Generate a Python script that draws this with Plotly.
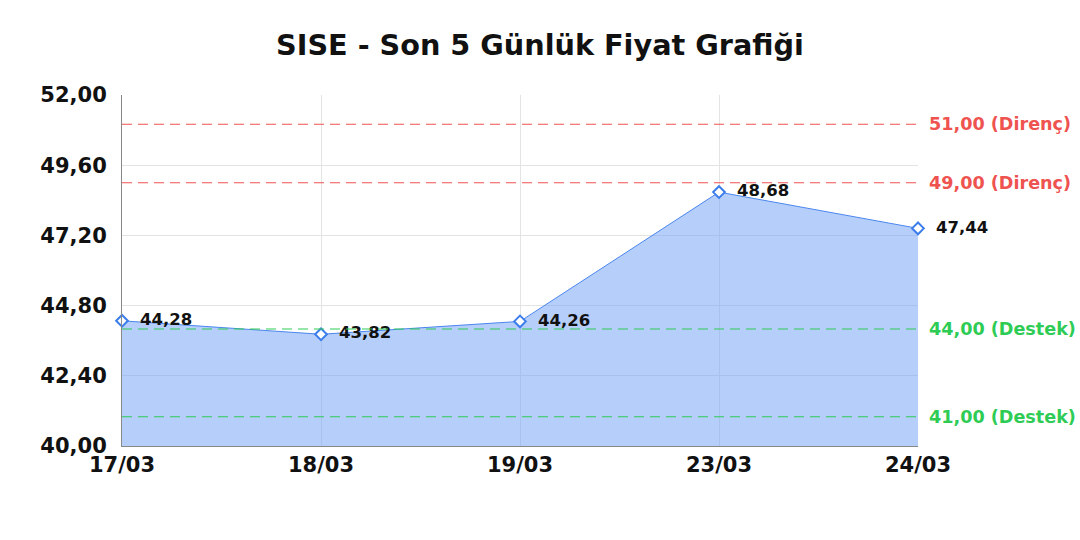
import plotly.graph_objects as go

# Price data
dates = ["17/03", "18/03", "19/03", "23/03", "24/03"]
prices = [44.28, 43.82, 44.26, 48.68, 47.44]

# Support / resistance levels
resistance_levels = [51.00, 49.00]
support_levels = [44.00, 41.00]

y_ticks = [40.00, 42.40, 44.80, 47.20, 49.60, 52.00]

FONT = "DejaVu Sans"
RED = "#ef5350"
GREEN = "#2ecc55"

fig = go.Figure()

# Area line with open diamond markers
fig.add_trace(go.Scatter(
    x=dates,
    y=prices,
    mode="lines+markers+text",
    line=dict(color="#4a86ee", width=1),
    fill="tozeroy",
    fillcolor="rgba(120,165,245,0.55)",
    marker=dict(symbol="diamond", size=9, color="white",
                line=dict(color="#3b7deb", width=2)),
    texttemplate="  %{y:.2f}",
    textposition="middle right",
    textfont=dict(family=FONT, size=16.5, color="#111111", weight="bold"),
    cliponaxis=False,
    showlegend=False,
))

shapes = []
annotations = []
for lvl in resistance_levels:
    shapes.append(dict(type="line", xref="paper", x0=0, x1=1, yref="y", y0=lvl, y1=lvl,
                       line=dict(color=RED, width=1.2, dash="10px,6px")))
    annotations.append(dict(xref="paper", x=1.0, xanchor="left", xshift=9, yref="y", y=lvl,
                            text=f"{lvl:.2f}".replace(".", ",") + " (Direnç)", showarrow=False,
                            font=dict(family=FONT, size=17.6, color=RED, weight="bold")))
for lvl in support_levels:
    shapes.append(dict(type="line", xref="paper", x0=0, x1=1, yref="y", y0=lvl, y1=lvl,
                       line=dict(color=GREEN, width=1.2, dash="10px,6px")))
    annotations.append(dict(xref="paper", x=1.0, xanchor="left", xshift=9, yref="y", y=lvl,
                            text=f"{lvl:.2f}".replace(".", ",") + " (Destek)", showarrow=False,
                            font=dict(family=FONT, size=17.6, color=GREEN, weight="bold")))

fig.update_layout(
    width=1080,
    height=540,
    separators=",.",
    title=dict(text="<b>SISE - Son 5 Günlük Fiyat Grafiği</b>", x=0.5, xanchor="center",
               y=1 - 45 / 540, yanchor="middle",
               font=dict(family=FONT, size=28.7, color="#111111")),
    font=dict(family=FONT, color="#111111"),
    plot_bgcolor="white",
    paper_bgcolor="white",
    margin=dict(l=122, r=162, t=95, b=94),
    shapes=shapes,
    annotations=annotations,
    xaxis=dict(
        type="category",
        range=[0, len(dates) - 1],
        showgrid=True, gridcolor="#e3e3e3",
        showline=True, linecolor="#888888", linewidth=1,
        ticks="", tickfont=dict(family=FONT, size=21, color="#111111", weight="bold"),
        zeroline=False,
    ),
    yaxis=dict(
        range=[40, 52],
        tickvals=y_ticks,
        tickformat=".2f",
        ticklabelstandoff=10,
        showgrid=True, gridcolor="#e3e3e3",
        showline=True, linecolor="#888888", linewidth=1,
        ticks="", tickfont=dict(family=FONT, size=21, color="#111111", weight="bold"),
        zeroline=False,
    ),
)

# drop the page's default body margin so the 1080x540 figure fills the window
fig.write_html("out.html",
               config={"displayModeBar": False},
               post_script="document.body.style.margin='0';document.body.style.overflow='hidden';")
